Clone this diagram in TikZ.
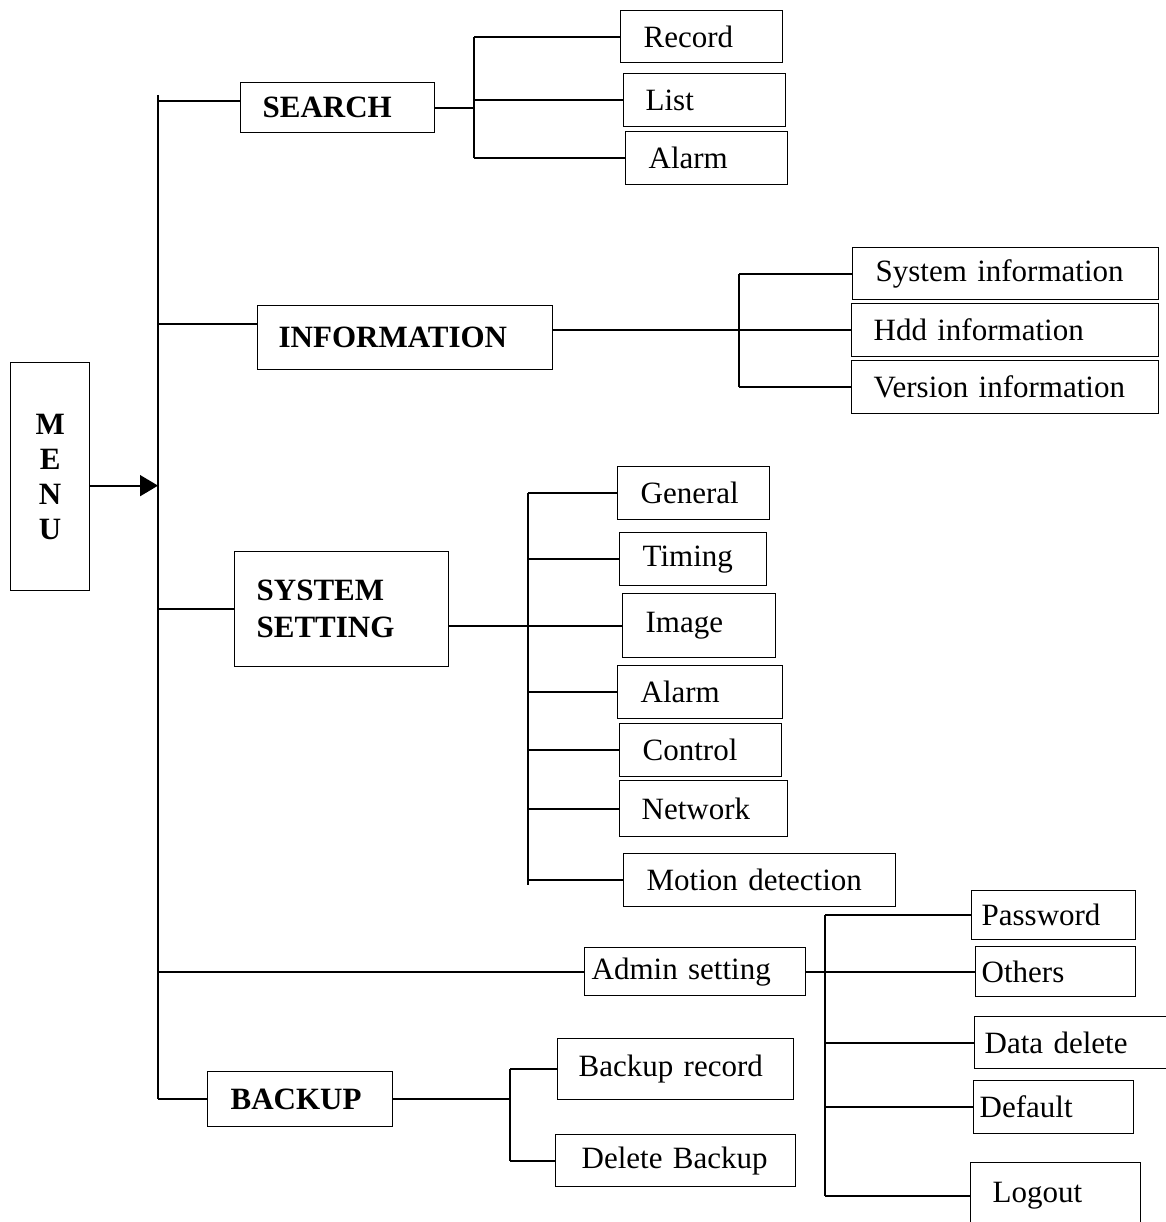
\documentclass[tikz,border=0pt]{standalone}
\usepackage{fontspec}
\setmainfont{Liberation Serif}
\usetikzlibrary{arrows.meta}

\begin{document}
\begin{tikzpicture}[
    x=1pt, y=-1pt,
    line width=1.8pt,
    every node/.style={font=\fontsize{31}{35}\selectfont},
    box/.style n args={3}{draw, line width=1.3pt, anchor=north west,
      minimum width=#1, minimum height=#2, inner xsep=#3, inner ysep=0pt,
      text width=#1-2*#3, align=left},
    head/.style={font=\fontsize{31}{37}\selectfont\bfseries},
    arr/.style={-{Triangle[length=18pt,width=21pt]}}
  ]
  \useasboundingbox (0,0) rectangle (1165,1222);

  \node[box={79}{228}{0}, align=center, head, font=\fontsize{31}{35}\selectfont\bfseries] (menu) at (10,362) {M\\E\\N\\U};

  \node[box={194}{50}{22}, head] (search) at (240,82) {SEARCH};
  \node[box={162}{52}{23}] (record) at (620,10) {Record};
  \node[box={162}{53}{22}] (list) at (623,73) {List};
  \node[box={162}{53}{23}] (salarm) at (625,131) {Alarm};

  \node[box={295}{64}{21}, head] (info) at (257,305) {INFORMATION};
  \node[box={306}{52}{23}] (sysinfo) at (852,247) {System information};
  \node[box={307}{53}{22}] (hdd) at (851,303) {Hdd information};
  \node[box={307}{53}{22}] (version) at (851,360) {Version information};

  \node[box={214}{115}{22}, head] (setting) at (234,551) {SYSTEM\\SETTING};
  \node[box={152}{53}{23}] (general) at (617,466) {General};
  \node[box={147}{53}{23}] (timing) at (619,532) {Timing};
  \node[box={153}{64}{23}] (image) at (622,593) {Image};
  \node[box={165}{53}{23}] (alarm) at (617,665) {Alarm};
  \node[box={162}{53}{23}] (control) at (619,723) {Control};
  \node[box={168}{56}{22}] (network) at (619,780) {Network};
  \node[box={272}{53}{23}] (motion) at (623,853) {Motion detection};

  \node[box={221}{48}{7}] (admin) at (584,947) {Admin setting};
  \node[box={164}{49}{10}] (password) at (971,890) {Password};
  \node[box={160}{50}{6}] (others) at (975,946) {Others};
  \node[box={192}{52}{10}] (datadel) at (974,1016) {Data delete};
  \node[box={160}{53}{6}] (default) at (973,1080) {Default};
  \node[box={170}{66}{22}] (logout) at (970,1162) {Logout};

  \node[box={185}{55}{23}, head] (backup) at (207,1071) {BACKUP};
  \node[box={236}{61}{21}] (brecord) at (557,1038) {Backup record};
  \node[box={240}{52}{26}] (bdelete) at (555,1134) {Delete Backup};

  \coordinate (bustop) at (158,95);
  \coordinate (sj) at (474,0);
  \coordinate (ij) at (739,0);
  \coordinate (ssj) at (528,0);
  \coordinate (aj) at (825,0);
  \coordinate (bj) at (510,0);

  \draw (bustop) -- (bustop |- backup.west);
  \draw[arr] ([yshift=-9pt]menu.east) -- ([yshift=-9pt]menu.east -| bustop);

  \draw ([yshift=7pt]search.west -| bustop) -- ([yshift=7pt]search.west);
  \draw ([yshift=14pt]info.west -| bustop) -- ([yshift=14pt]info.west);
  \draw (setting.west -| bustop) -- (setting.west);
  \draw (admin.west -| bustop) -- (admin.west);
  \draw (backup.west -| bustop) -- (backup.west);

  \draw (search.east) -- (search.east -| sj);
  \draw (record.west -| sj) -- (salarm.west -| sj);
  \foreach \n in {record,list,salarm}
    \draw (\n.west -| sj) -- (\n.west);

  \draw (info.east |- hdd.west) -- (hdd.west);
  \draw (sysinfo.west -| ij) -- (version.west -| ij);
  \foreach \n in {sysinfo,version}
    \draw (\n.west -| ij) -- (\n.west);

  \draw (setting.east |- image.west) -- (image.west);
  \draw (general.west -| ssj) -- ([yshift=-5pt]motion.west -| ssj);
  \foreach \n in {general,timing,alarm,control,network,motion}
    \draw (\n.west -| ssj) -- (\n.west);

  \draw (admin.east) -- (others.west);
  \draw (password.west -| aj) -- (logout.west -| aj);
  \foreach \n in {password,datadel,default,logout}
    \draw (\n.west -| aj) -- (\n.west);

  \draw (backup.east) -- (backup.east -| bj);
  \draw (brecord.west -| bj) -- (bdelete.west -| bj);
  \foreach \n in {brecord,bdelete}
    \draw (\n.west -| bj) -- (\n.west);
\end{tikzpicture}
\end{document}
